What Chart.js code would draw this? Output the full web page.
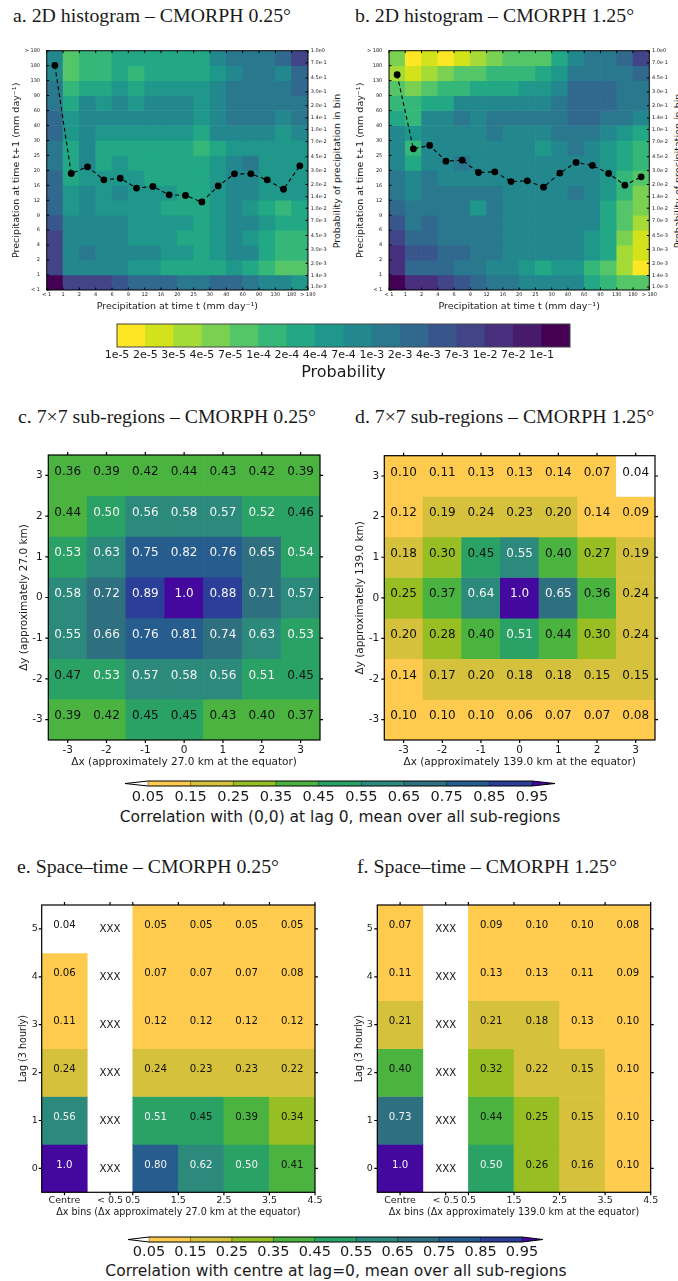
<!DOCTYPE html>
<html>
<head>
<meta charset="utf-8">
<title>CMORPH precipitation statistics</title>
<script src="https://cdn.jsdelivr.net/npm/chart.js"></script>
<style>
html,body{margin:0;padding:0;background:#fff;overflow:hidden;}
body{width:678px;height:1281px;position:relative;}
canvas{position:absolute;}
.ptitle{position:absolute;font-family:"Liberation Serif","Times New Roman",serif;font-size:18px;line-height:18px;color:#1a1a1a;white-space:nowrap;transform-origin:0 0;transform:scaleX(1.1);}
.rtitle{position:absolute;font-family:"DejaVu Sans",sans-serif;font-size:9.5px;line-height:11px;color:#1a1a1a;white-space:nowrap;transform:translate(-50%,-50%) rotate(-90deg);}
.cbt{position:absolute;font-family:"DejaVu Sans",sans-serif;font-size:15.5px;line-height:18px;color:#1a1a1a;white-space:nowrap;transform:translate(-50%,-50%);}
</style>
</head>
<body>
<div class="ptitle" style="left:13px;top:7px">a. 2D histogram – CMORPH 0.25°</div>
<div class="ptitle" style="left:355px;top:7px">b. 2D histogram – CMORPH 1.25°</div>
<div class="ptitle" style="left:18px;top:408px">c. 7×7 sub-regions – CMORPH 0.25°</div>
<div class="ptitle" style="left:355px;top:408px">d. 7×7 sub-regions – CMORPH 1.25°</div>
<div class="ptitle" style="left:17px;top:858px">e. Space–time – CMORPH 0.25°</div>
<div class="ptitle" style="left:357px;top:858px">f. Space–time – CMORPH 1.25°</div>
<div class="rtitle" style="left:336px;top:170.5px">Probability of precipitation in bin</div>
<div class="rtitle" style="left:677px;top:170.5px">Probability of precipitation in bin</div>
<div class="cbt" style="left:340px;top:817px">Correlation with (0,0) at lag 0, mean over all sub-regions</div>
<div class="cbt" style="left:336px;top:1271px">Correlation with centre at lag=0, mean over all sub-regions</div>

<canvas id="cA" width="340" height="280" style="left:0;top:40px"></canvas>
<canvas id="cB" width="338" height="280" style="left:340px;top:40px"></canvas>
<canvas id="cbP" width="678" height="66" style="left:0;top:318px"></canvas>
<canvas id="cC" width="340" height="330" style="left:0;top:440px"></canvas>
<canvas id="cD" width="338" height="330" style="left:340px;top:440px"></canvas>
<canvas id="cbC1" width="678" height="40" style="left:0;top:770px"></canvas>
<canvas id="cE" width="340" height="340" style="left:0;top:880px"></canvas>
<canvas id="cF" width="338" height="340" style="left:340px;top:880px"></canvas>
<canvas id="cbC2" width="678" height="40" style="left:0;top:1226px"></canvas>

<script>
// ================= DATA =================
// Precipitation bin edges (mm/day), used as tick labels of panels a and b
const precipBinEdges = ['< 1','1','2','4','6','9','12','16','20','25','30','40','60','90','130','180','> 180'];
// Right-hand (log) axis of panels a/b
const probAxisTicks  = [1e-3,1.4e-3,2e-3,3e-3,4.5e-3,7e-3,1e-2,1.4e-2,2e-2,3e-2,4.5e-2,7e-2,1e-1,1.4e-1,2e-1,3e-1,4.5e-1,7e-1,1];
const probAxisLabels = ['1.0e-3','1.4e-3','2.0e-3','3.0e-3','4.5e-3','7.0e-3','1.0e-2','1.4e-2','2.0e-2','3.0e-2','4.5e-2','7.0e-2','1.0e-1','1.4e-1','2.0e-1','3.0e-1','4.5e-1','7.0e-1','1.0e0'];
// Probability colour levels (colorbar under panels a/b)
const histLevels      = [1e-5,2e-5,3e-5,4e-5,7e-5,1e-4,2e-4,4e-4,7e-4,1e-3,2e-3,4e-3,7e-3,1e-2,7e-2,1e-1];
const histLevelLabels = ['1e-5','2e-5','3e-5','4e-5','7e-5','1e-4','2e-4','4e-4','7e-4','1e-3','2e-3','4e-3','7e-3','1e-2','7e-2','1e-1'];

// 2D histogram, CMORPH 0.25 deg: rows from top (t+1 > 180) to bottom (t+1 < 1), columns from t < 1 to t > 180
const hist025 = [
 [8e-4,8e-5,1.5e-4,1.5e-4,3e-4,3e-4,3e-4,3e-4,3e-4,3e-4,8e-4,1.5e-3,1.5e-3,1.5e-3,3e-3,8e-3],
 [8e-4,8e-5,1.5e-4,1.5e-4,3e-4,1.5e-4,3e-4,3e-4,3e-4,3e-4,5e-4,8e-4,1.5e-3,1.5e-3,8e-4,3e-3],
 [1.5e-3,1.5e-4,3e-4,3e-4,5e-4,3e-4,5e-4,5e-4,5e-4,5e-4,8e-4,1.5e-3,1.5e-3,1.5e-3,1.5e-3,3e-3],
 [1.5e-3,3e-4,8e-4,5e-4,8e-4,5e-4,8e-4,8e-4,8e-4,5e-4,8e-4,1.5e-3,1.5e-3,1.5e-3,1.5e-3,1.5e-3],
 [3e-3,5e-4,8e-4,8e-4,8e-4,8e-4,8e-4,8e-4,8e-4,5e-4,8e-4,1.5e-3,1.5e-3,1.5e-3,8e-4,1.5e-3],
 [3e-3,5e-4,8e-4,5e-4,5e-4,5e-4,5e-4,5e-4,5e-4,3e-4,8e-4,8e-4,8e-4,8e-4,5e-4,8e-4],
 [1.5e-3,3e-4,8e-4,3e-4,3e-4,3e-4,3e-4,3e-4,3e-4,1.5e-4,3e-4,5e-4,5e-4,5e-4,5e-4,5e-4],
 [1.5e-3,3e-4,8e-4,3e-4,5e-4,3e-4,3e-4,3e-4,3e-4,3e-4,5e-4,8e-4,1.5e-3,5e-4,5e-4,5e-4],
 [3e-3,3e-4,5e-4,5e-4,5e-4,5e-4,3e-4,3e-4,3e-4,3e-4,5e-4,8e-4,8e-4,5e-4,5e-4,5e-4],
 [3e-3,5e-4,8e-4,5e-4,8e-4,5e-4,5e-4,5e-4,3e-4,3e-4,5e-4,8e-4,8e-4,5e-4,5e-4,5e-4],
 [3e-3,5e-4,8e-4,5e-4,5e-4,5e-4,5e-4,3e-4,3e-4,3e-4,5e-4,8e-4,5e-4,3e-4,1.5e-4,3e-4],
 [5e-3,8e-4,8e-4,8e-4,8e-4,5e-4,5e-4,5e-4,5e-4,3e-4,5e-4,8e-4,8e-4,5e-4,3e-4,3e-4],
 [8e-3,8e-4,8e-4,8e-4,8e-4,5e-4,5e-4,5e-4,3e-4,3e-4,5e-4,8e-4,5e-4,3e-4,1.5e-4,1.5e-4],
 [8e-3,8e-4,1.5e-3,8e-4,8e-4,8e-4,8e-4,5e-4,5e-4,3e-4,5e-4,8e-4,8e-4,3e-4,1.5e-4,1.5e-4],
 [8e-3,8e-4,8e-4,8e-4,8e-4,5e-4,5e-4,3e-4,3e-4,3e-4,3e-4,5e-4,3e-4,1.5e-4,8e-5,8e-5],
 [0.2,8e-3,8e-3,8e-3,5e-3,3e-3,3e-3,3e-3,1.5e-3,1.5e-3,3e-3,3e-3,1.5e-3,8e-4,8e-4,5e-4]
];
// 2D histogram, CMORPH 1.25 deg
const hist125 = [
 [5e-5,1.5e-5,2.5e-5,1.5e-5,2.5e-5,3.5e-5,5e-5,8e-5,8e-5,8e-5,3e-4,8e-4,1.5e-3,1.5e-3,3e-3,8e-3],
 [3.5e-5,2.5e-5,3.5e-5,5e-5,8e-5,8e-5,1.5e-4,1.5e-4,1.5e-4,3e-4,5e-4,1.5e-3,1.5e-3,1.5e-3,1.5e-3,3e-3],
 [8e-5,5e-5,8e-5,1.5e-4,1.5e-4,3e-4,3e-4,3e-4,5e-4,5e-4,8e-4,3e-3,3e-3,3e-3,1.5e-3,1.5e-3],
 [1.5e-4,1.5e-4,3e-4,3e-4,8e-4,8e-4,8e-4,8e-4,8e-4,8e-4,1.5e-3,3e-3,3e-3,3e-3,1.5e-3,1.5e-3],
 [3e-4,1.5e-4,8e-4,8e-4,1.5e-3,8e-4,1.5e-3,1.5e-3,1.5e-3,1.5e-3,1.5e-3,3e-3,3e-3,1.5e-3,1.5e-3,8e-4],
 [8e-4,5e-4,8e-4,8e-4,8e-4,8e-4,1.5e-3,8e-4,8e-4,8e-4,1.5e-3,1.5e-3,1.5e-3,8e-4,5e-4,3e-4],
 [8e-4,1.5e-4,8e-4,8e-4,8e-4,8e-4,8e-4,8e-4,8e-4,5e-4,8e-4,1.5e-3,8e-4,5e-4,3e-4,1.5e-4],
 [8e-4,3e-4,8e-4,8e-4,1.5e-3,8e-4,8e-4,8e-4,8e-4,8e-4,8e-4,8e-4,8e-4,5e-4,3e-4,1.5e-4],
 [1.5e-3,8e-4,1.5e-3,8e-4,8e-4,8e-4,8e-4,8e-4,8e-4,8e-4,8e-4,8e-4,8e-4,5e-4,1.5e-4,8e-5],
 [1.5e-3,8e-4,1.5e-3,1.5e-3,1.5e-3,1.5e-3,1.5e-3,8e-4,8e-4,8e-4,8e-4,1.5e-3,8e-4,5e-4,1.5e-4,5e-5],
 [3e-3,1.5e-3,1.5e-3,1.5e-3,1.5e-3,5e-4,1.5e-3,8e-4,8e-4,8e-4,8e-4,8e-4,8e-4,3e-4,8e-5,5e-5],
 [5e-3,1.5e-3,3e-3,1.5e-3,1.5e-3,1.5e-3,1.5e-3,8e-4,8e-4,8e-4,8e-4,8e-4,8e-4,3e-4,8e-5,3.5e-5],
 [8e-3,3e-3,3e-3,1.5e-3,1.5e-3,1.5e-3,1.5e-3,8e-4,8e-4,8e-4,8e-4,8e-4,5e-4,3e-4,5e-5,2.5e-5],
 [3e-2,5e-3,5e-3,3e-3,3e-3,1.5e-3,1.5e-3,8e-4,8e-4,8e-4,8e-4,8e-4,5e-4,3e-4,3.5e-5,2.5e-5],
 [3e-2,3e-3,3e-3,3e-3,1.5e-3,1.5e-3,8e-4,8e-4,5e-4,3e-4,5e-4,5e-4,1.5e-4,8e-5,3.5e-5,1.5e-5],
 [0.2,3e-2,3e-2,8e-3,5e-3,3e-3,1.5e-3,1.5e-3,8e-4,8e-4,8e-4,8e-4,3e-4,1.5e-4,8e-5,8e-5]
];
// Probability of precipitation in each bin (black dots, right axis)
const binProb025 = [0.65,0.0276,0.0335,0.0229,0.024,0.018,0.0189,0.0148,0.0145,0.012,0.0192,0.0273,0.0273,0.0229,0.0174,0.0345];
const binProb125 = [0.495,0.0568,0.0626,0.0396,0.0407,0.0284,0.029,0.0218,0.0223,0.0185,0.0279,0.0381,0.0349,0.0276,0.0196,0.025];

// 7x7 sub-region correlations (rows dy = 3 .. -3, columns dx = -3 .. 3)
const dxOffsets = [-3,-2,-1,0,1,2,3];
const dyOffsets = [3,2,1,0,-1,-2,-3];
const corrSub025 = [
 [0.36,0.39,0.42,0.44,0.43,0.42,0.39],
 [0.44,0.50,0.56,0.58,0.57,0.52,0.46],
 [0.53,0.63,0.75,0.82,0.76,0.65,0.54],
 [0.58,0.72,0.89,1.0,0.88,0.71,0.57],
 [0.55,0.66,0.76,0.81,0.74,0.63,0.53],
 [0.47,0.53,0.57,0.58,0.56,0.51,0.45],
 [0.39,0.42,0.45,0.45,0.43,0.40,0.37]
];
const corrSub125 = [
 [0.10,0.11,0.13,0.13,0.14,0.07,0.04],
 [0.12,0.19,0.24,0.23,0.20,0.14,0.09],
 [0.18,0.30,0.45,0.55,0.40,0.27,0.19],
 [0.25,0.37,0.64,1.0,0.65,0.36,0.24],
 [0.20,0.28,0.40,0.51,0.44,0.30,0.24],
 [0.14,0.17,0.20,0.18,0.18,0.15,0.15],
 [0.10,0.10,0.10,0.06,0.07,0.07,0.08]
];

// Space-time correlations (rows lag 5 .. 0; columns Centre, < 0.5 (XXX = null), 0.5-1.5, 1.5-2.5, 2.5-3.5, 3.5-4.5)
const lagSteps = [5,4,3,2,1,0];
const dxBinTickPos    = [0,1,1.5,2.5,3.5,4.5,5.5];
const dxBinTickLabels = ['Centre','< 0.5','0.5','1.5','2.5','3.5','4.5'];
const spaceTime025 = [
 [0.04,null,0.05,0.05,0.05,0.05],
 [0.06,null,0.07,0.07,0.07,0.08],
 [0.11,null,0.12,0.12,0.12,0.12],
 [0.24,null,0.24,0.23,0.23,0.22],
 [0.56,null,0.51,0.45,0.39,0.34],
 [1.0,null,0.80,0.62,0.50,0.41]
];
const spaceTime125 = [
 [0.07,null,0.09,0.10,0.10,0.08],
 [0.11,null,0.13,0.13,0.11,0.09],
 [0.21,null,0.21,0.18,0.13,0.10],
 [0.40,null,0.32,0.22,0.15,0.10],
 [0.73,null,0.44,0.25,0.15,0.10],
 [1.0,null,0.50,0.26,0.16,0.10]
];
// Correlation colour levels
const corrLevels      = [0.05,0.15,0.25,0.35,0.45,0.55,0.65,0.75,0.85,0.95];
const corrLevelLabels = ['0.05','0.15','0.25','0.35','0.45','0.55','0.65','0.75','0.85','0.95'];

// ================= STYLES =================
const VIRIDIS_R = ['#fde725','#d2e21b','#a5db36','#7ad151','#54c568','#35b779','#22a884','#1f988b',
                   '#23888e','#2a788e','#31688e','#39568c','#414487','#472f7d','#481a6c','#440154'];
const CORR_COLORS = ['#fecb4e','#d5c13c','#97be22','#4bb441','#2aa266','#2b8a7b','#2e7080','#275c8e','#2c3f98'];
const CORR_UNDER = '#ffffff', CORR_OVER = '#45089f';

// ================= PLUGINS =================
const framePlugin = {
  id: 'frame',
  afterDatasetsDraw(chart, args, o) {
    if (!o || !o.show) return;
    const ctx = chart.ctx, a = chart.chartArea;
    const len = o.len || 0, s = o.dir === 'in' ? 1 : -1;
    const parse = str => (str || '').split(';').filter(Boolean).map(p => p.split(':'));
    ctx.save();
    ctx.strokeStyle = o.color || '#000';
    ctx.lineWidth = o.lw || 1;
    if (len) {
      ctx.beginPath();
      parse(o.h).forEach(([id, edges]) => {
        const sc = chart.scales[id]; if (!sc) return;
        sc.ticks.forEach(t => {
          const p = sc.getPixelForValue(t.value);
          if (edges.includes('t')) { ctx.moveTo(p, a.top); ctx.lineTo(p, a.top + s * len); }
          if (edges.includes('b')) { ctx.moveTo(p, a.bottom); ctx.lineTo(p, a.bottom - s * len); }
        });
      });
      parse(o.v).forEach(([id, edges]) => {
        const sc = chart.scales[id]; if (!sc) return;
        sc.ticks.forEach(t => {
          const p = sc.getPixelForValue(t.value);
          if (edges.includes('l')) { ctx.moveTo(a.left, p); ctx.lineTo(a.left + s * len, p); }
          if (edges.includes('r')) { ctx.moveTo(a.right, p); ctx.lineTo(a.right - s * len, p); }
        });
      });
      ctx.stroke();
    }
    if (o.box !== false) ctx.strokeRect(a.left, a.top, a.right - a.left, a.bottom - a.top);
    ctx.restore();
  }
};

const cellTextPlugin = {
  id: 'cellText',
  afterDatasetsDraw(chart, args, o) {
    if (!o || !o.show) return;
    const ctx = chart.ctx;
    ctx.save();
    ctx.font = o.size + 'px "DejaVu Sans"';
    ctx.textAlign = 'center';
    ctx.textBaseline = 'middle';
    chart.data.datasets.forEach((ds, di) => {
      if (!ds.values) return;
      const meta = chart.getDatasetMeta(di);
      ds.values.forEach((v, i) => {
        const el = meta.data[i]; if (!el) return;
        const cy = (el.y + el.base) / 2;
        if (v === null) {
          ctx.fillStyle = '#111';
          ctx.fillText('XXX', el.x, cy + (o.nullDy || 0));
        } else {
          ctx.fillStyle = v >= 0.5 ? '#f4f4f4' : '#111';
          ctx.fillText(v === 1 ? '1.0' : v.toFixed(2), el.x, cy + (o.dy || 0));
        }
      });
    });
    ctx.restore();
  }
};

const extendPlugin = {
  id: 'extend',
  afterDatasetsDraw(chart, args, o) {
    if (!o || !o.show) return;
    const ctx = chart.ctx, a = chart.chartArea, m = (a.top + a.bottom) / 2, L = o.len;
    ctx.save();
    ctx.fillStyle = o.under;
    ctx.beginPath(); ctx.moveTo(a.left, a.top); ctx.lineTo(a.left - L, m); ctx.lineTo(a.left, a.bottom); ctx.closePath(); ctx.fill();
    ctx.fillStyle = o.over;
    ctx.beginPath(); ctx.moveTo(a.right, a.top); ctx.lineTo(a.right + L, m); ctx.lineTo(a.right, a.bottom); ctx.closePath(); ctx.fill();
    // boundaries between colour bins
    const sc = chart.scales.x;
    ctx.strokeStyle = 'rgba(0,0,0,0.45)'; ctx.lineWidth = 0.8;
    ctx.beginPath();
    sc.ticks.forEach(t => { const p = sc.getPixelForValue(t.value); ctx.moveTo(p, a.top); ctx.lineTo(p, a.bottom); });
    ctx.stroke();
    ctx.strokeStyle = '#000'; ctx.lineWidth = 1;
    ctx.beginPath();
    ctx.moveTo(a.left - L, m); ctx.lineTo(a.left, a.top); ctx.lineTo(a.right, a.top); ctx.lineTo(a.right + L, m);
    ctx.lineTo(a.right, a.bottom); ctx.lineTo(a.left, a.bottom); ctx.closePath(); ctx.stroke();
    ctx.restore();
  }
};

Chart.register(framePlugin, cellTextPlugin, extendPlugin);
Chart.defaults.font.family = '"DejaVu Sans", sans-serif';
Chart.defaults.color = '#1a1a1a';

// ================= HELPERS =================
function levelIndex(v, levels) { let k = -1; for (let i = 0; i < levels.length; i++) if (v >= levels[i]) k = i; return k; }
function histColor(v) { return VIRIDIS_R[Math.max(0, levelIndex(v, histLevels))]; }
function corrColor(v) {
  if (v === null) return 'rgba(255,255,255,0)';
  const k = levelIndex(v, corrLevels);
  if (k < 0) return CORR_UNDER;
  if (k >= corrLevels.length - 1) return CORR_OVER;
  return CORR_COLORS[k];
}
function fixedTicks(values) { const vs = values.slice().sort((a, b) => a - b); return s => { s.ticks = vs.map(v => ({value: v})); }; }
const noGrid = {display: false, drawTicks: false, tickLength: 0};
function linAxis(extra) { return Object.assign({type: 'linear', offset: false, grid: noGrid, border: {display: false}}, extra); }
function baseOptions(padding, pluginOpts, scales) {
  return {
    responsive: false, animation: false, devicePixelRatio: 1, events: [],
    layout: {padding},
    plugins: Object.assign({legend: {display: false}, tooltip: {enabled: false}}, pluginOpts),
    scales
  };
}
const barStyle = {borderWidth: 0, barPercentage: 1, categoryPercentage: 1, grouped: false};

// ================= PANELS a / b =================
function histChart(id, grid, probs, L) {
  const nRows = grid.length;
  const cells = grid.map((row, r) => Object.assign({
    type: 'bar', xAxisID: 'x', yAxisID: 'y', order: 2,
    data: row.map((v, c) => ({x: c + 0.5, y: [nRows - 1 - r, nRows - r]})),
    backgroundColor: row.map(histColor)
  }, barStyle));
  const line = {
    type: 'line', xAxisID: 'x', yAxisID: 'y2', order: 0,
    data: probs.map((p, c) => ({x: c + 0.5, y: p})),
    borderColor: '#000', borderWidth: 1.1, borderDash: [4, 3], tension: 0, fill: false,
    pointRadius: 3.4, pointBackgroundColor: '#000', pointBorderColor: '#000', pointBorderWidth: 0
  };
  const edgeIdx = precipBinEdges.map((_, i) => i);
  return new Chart(document.getElementById(id), {
    type: 'bar',
    data: {datasets: [...cells, line]},
    options: baseOptions({left: L.padL, right: 0, top: 10.7, bottom: 7.6},
      {frame: {show: true, dir: 'in', len: 2.5, lw: 1, h: 'x:tb', v: 'y:l;y2:r'}},
      {
        x: linAxis({min: 0, max: 16, position: 'bottom', afterBuildTicks: fixedTicks(edgeIdx),
          ticks: {autoSkip: false, maxRotation: 0, minRotation: 0, padding: 2, font: {size: 5}, callback: (v, i) => precipBinEdges[i]},
          title: {display: true, text: 'Precipitation at time t (mm day⁻¹)', font: {size: 9.5}, padding: 0},
          afterFit: s => { s.height = 22.4; }}),
        y: linAxis({min: 0, max: 16, position: 'left', afterBuildTicks: fixedTicks(edgeIdx),
          ticks: {autoSkip: false, padding: 6.7, font: {size: 5}, callback: (v, i) => precipBinEdges[i]},
          title: {display: true, text: 'Precipitation at time t+1 (mm day⁻¹)', font: {size: 9.5}, padding: 0},
          afterFit: s => { s.width = L.axW; }}),
        y2: {type: 'logarithmic', position: 'right', min: 9.15e-4, max: 1,
          grid: noGrid, border: {display: false},
          afterBuildTicks: fixedTicks(probAxisTicks),
          ticks: {autoSkip: false, padding: 2.7, font: {size: 5}, callback: (v, i) => probAxisLabels[i]},
          afterFit: s => { s.width = L.rW; }}
      })
  });
}
histChart('cA', hist025, binProb025, {padL: 11, axW: 35.7, rW: 32});
histChart('cB', hist125, binProb125, {padL: 15.3, axW: 33.7, rW: 28.7});

// probability colorbar
new Chart(document.getElementById('cbP'), {
  type: 'bar',
  data: {datasets: [Object.assign({
    data: histLevels.map((_, i) => ({x: i + 0.5, y: [0, 1]})),
    backgroundColor: histLevels.map(histColor)
  }, barStyle)]},
  options: baseOptions({left: 117, right: 108, top: 6, bottom: 1.4},
    {frame: {show: true, len: 0, color: '#444', lw: 1}},
    {
      x: linAxis({min: 0, max: 16, afterBuildTicks: fixedTicks(histLevels.map((_, i) => i)),
        ticks: {autoSkip: false, maxRotation: 0, padding: 1.4, font: {size: 11}, callback: (v, i) => histLevelLabels[i]},
        title: {display: true, text: 'Probability', font: {size: 16}, padding: 0},
        afterFit: s => { s.height = 35.6; }}),
      y: {type: 'linear', display: false, min: 0, max: 1}
    })
});

// ================= PANELS c / d =================
function corrChart(id, grid, L, xTitle, yTitle) {
  const cells = grid.map((row, r) => Object.assign({
    data: row.map((v, c) => ({x: dxOffsets[c], y: [dyOffsets[r] - 0.5, dyOffsets[r] + 0.5]})),
    values: row,
    backgroundColor: row.map(corrColor)
  }, barStyle));
  return new Chart(document.getElementById(id), {
    type: 'bar',
    data: {datasets: cells},
    options: baseOptions({left: L.padL, right: L.padR, top: L.padT, bottom: 1},
      {frame: {show: true, dir: 'out', len: 3, lw: 1.2, h: 'x:tb', v: 'y:lr'},
       cellText: {show: true, size: 12, dy: -3.5}},
      {
        x: linAxis({min: -3.5, max: 3.5, afterBuildTicks: fixedTicks(dxOffsets),
          ticks: {autoSkip: false, maxRotation: 0, padding: 3.7, font: {size: 10.5}, callback: v => String(v)},
          title: {display: true, text: xTitle, font: {size: 10.5}, padding: 0},
          afterFit: s => { s.height = 29; }}),
        y: linAxis({min: -3.5, max: 3.5, afterBuildTicks: fixedTicks(dyOffsets),
          ticks: {autoSkip: false, padding: L.tp, font: {size: 10.5}, callback: v => String(v)},
          title: {display: true, text: yTitle, font: {size: 10.5}, padding: 0},
          afterFit: s => { s.width = L.axW; }})
      })
  });
}
corrChart('cC', corrSub025, {padL: 18, axW: 30.3, padR: 20, padT: 15, tp: 5.6},
  'Δx (approximately 27.0 km at the equator)', 'Δy (approximately 27.0 km)');
corrChart('cD', corrSub125, {padL: 14.4, axW: 29.9, padR: 23, padT: 15.7, tp: 5},
  'Δx (approximately 139.0 km at the equator)', 'Δy (approximately 139.0 km)');

// ================= correlation colorbars =================
function corrColorbar(id, L) {
  return new Chart(document.getElementById(id), {
    type: 'bar',
    data: {datasets: [Object.assign({
      data: CORR_COLORS.map((c, i) => ({x: (corrLevels[i] + corrLevels[i + 1]) / 2, y: [0, 1]})),
      backgroundColor: CORR_COLORS.map((c, i) => corrColor((corrLevels[i] + corrLevels[i + 1]) / 2))
    }, barStyle)]},
    options: baseOptions({left: L.left, right: L.right, top: 11, bottom: L.padB},
      {extend: {show: true, len: L.ext, under: CORR_UNDER, over: CORR_OVER}},
      {
        x: linAxis({min: corrLevels[0], max: corrLevels[corrLevels.length - 1], afterBuildTicks: fixedTicks(corrLevels),
          ticks: {autoSkip: false, maxRotation: 0, padding: L.tp, font: {size: 14.5}, callback: (v, i) => corrLevelLabels[i]},
          afterFit: s => { s.height = L.axH; }}),
        y: {type: 'linear', display: false, min: 0, max: 1}
      })
  });
}
corrColorbar('cbC1', {left: 148, right: 146, ext: 23, tp: 2.6, axH: 20, padB: 4});
corrColorbar('cbC2', {left: 149, right: 156, ext: 21, tp: 1.6, axH: 19, padB: 5});

// ================= PANELS e / f =================
function stChart(id, grid, L, xTitle) {
  const colIdx = grid[0].map((_, c) => c);
  const cells = grid.map((row, r) => Object.assign({
    data: row.map((v, c) => ({x: colIdx[c], y: [lagSteps[r] - 0.5, lagSteps[r] + 0.5]})),
    values: row,
    backgroundColor: row.map(corrColor)
  }, barStyle));
  return new Chart(document.getElementById(id), {
    type: 'bar',
    data: {datasets: cells},
    options: baseOptions({left: L.padL, right: L.padR, top: 25, bottom: 2},
      {frame: {show: true, dir: 'out', len: 3, lw: 1.2, h: 'xt:tb', v: 'y:lr'},
       cellText: {show: true, size: 10.2, dy: -3.5, nullDy: 0.5}},
      {
        x: {type: 'linear', display: false, offset: false, min: -0.5, max: 5.5, afterBuildTicks: fixedTicks(colIdx)},
        xt: linAxis({position: 'bottom', min: -0.5, max: 5.5, afterBuildTicks: fixedTicks(dxBinTickPos),
          ticks: {autoSkip: false, maxRotation: 0, padding: 2.6, font: {size: 9.5}, callback: (v, i) => dxBinTickLabels[i]},
          title: {display: true, text: xTitle, font: {size: 9.6}, padding: 0},
          afterFit: s => { s.height = 25.7; }}),
        y: linAxis({min: -0.5, max: 5.5, afterBuildTicks: fixedTicks(lagSteps),
          ticks: {autoSkip: false, padding: L.tp, font: {size: 9.5}, callback: v => String(v)},
          title: {display: true, text: 'Lag (3 hourly)', font: {size: 9.6}, padding: 0},
          afterFit: s => { s.width = L.axW; }})
      })
  });
}
stChart('cE', spaceTime025, {padL: 17.5, axW: 24.2, padR: 25, tp: 4}, 'Δx bins (Δx approximately 27.0 km at the equator)');
stChart('cF', spaceTime125, {padL: 13.5, axW: 23.8, padR: 27.3, tp: 4.6}, 'Δx bins (Δx approximately 139.0 km at the equator)');
</script>
</body>
</html>
